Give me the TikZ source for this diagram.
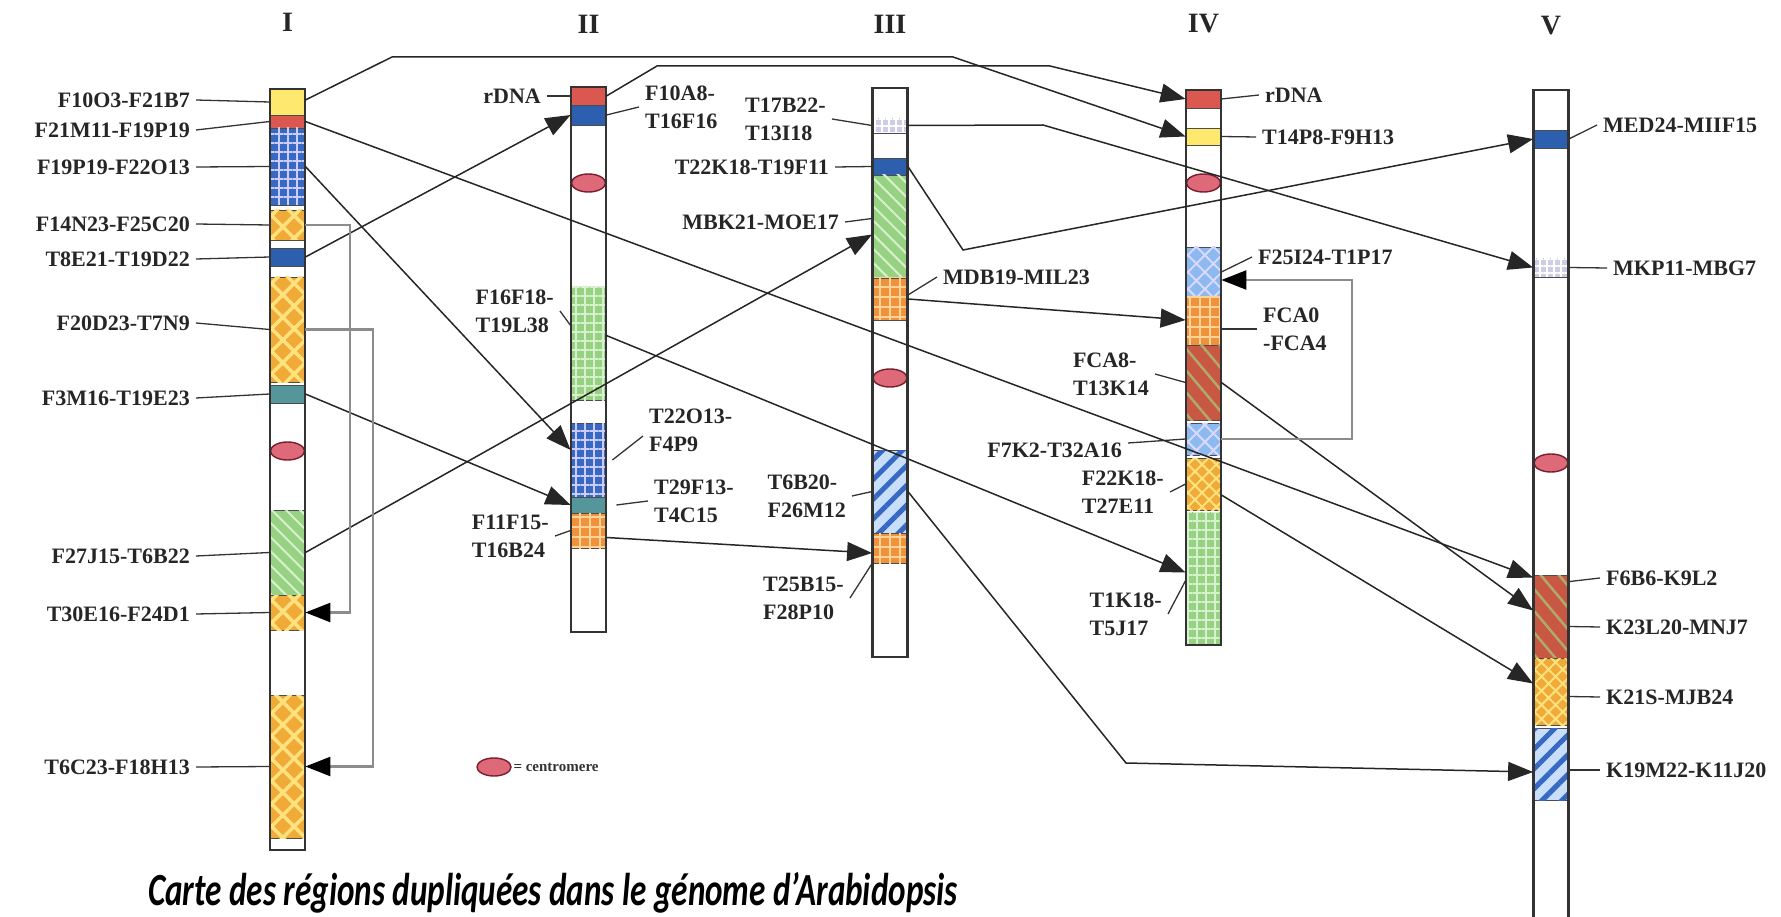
\documentclass[tikz,border=0pt]{standalone}
\usepackage{fontspec}
\setmainfont{Liberation Serif}
\newfontfamily\capfont{Carlito}
\usetikzlibrary{arrows.meta, patterns.meta, shapes.geometric}

\definecolor{yelC}{RGB}{255,232,110}
\definecolor{redC}{RGB}{218,88,80}
\definecolor{blueC}{RGB}{55,105,195}
\definecolor{dblueC}{RGB}{45,95,175}
\definecolor{tealC}{RGB}{85,150,155}
\definecolor{orangeC}{RGB}{240,170,55}
\definecolor{lyelC}{RGB}{255,225,125}
\definecolor{greenC}{RGB}{150,210,130}
\definecolor{lgreenC}{RGB}{215,240,205}
\definecolor{gridorC}{RGB}{240,145,60}
\definecolor{lorC}{RGB}{255,210,150}
\definecolor{lavC}{RGB}{205,205,232}
\definecolor{skyC}{RGB}{200,222,250}
\definecolor{brickC}{RGB}{200,88,68}
\definecolor{oliveC}{RGB}{175,170,105}
\definecolor{crossC}{RGB}{140,185,240}
\definecolor{centC}{RGB}{222,105,120}
\definecolor{centD}{RGB}{120,30,45}

\tikzset{
  seg/.style={rectangle, draw=black!70, line width=0.8pt, minimum width=35pt, inner sep=0pt},
  chrom/.style={rectangle, draw=black!80, line width=2.5pt, minimum width=35pt, inner sep=0pt},
  yel/.style={seg, fill=yelC},
  rdna/.style={seg, fill=redC},
  dblue/.style={seg, fill=dblueC},
  teal/.style={seg, fill=tealC},
  lav/.style={seg, fill=lavC, postaction={pattern={Hatch[angle=0,distance=7pt,line width=1.5pt]}, pattern color=white}},
  bgrid/.style={seg, fill=blueC, postaction={pattern={Hatch[angle=0,distance=9pt,line width=2.2pt]}, pattern color=white!80!blue}},
  ggrid/.style={seg, fill=greenC, postaction={pattern={Hatch[angle=0,distance=9pt,line width=2pt]}, pattern color=lgreenC}},
  ogrid/.style={seg, fill=gridorC, postaction={pattern={Hatch[angle=0,distance=10pt,line width=2pt]}, pattern color=lorC}},
  ocross/.style={seg, fill=orangeC, postaction={pattern={Hatch[angle=45,distance=16pt,line width=3.5pt]}, pattern color=lyelC}},
  ochev/.style={seg, fill=orangeC, postaction={pattern={Hatch[angle=45,distance=10pt,line width=2pt]}, pattern color=lyelC}},
  ghatch/.style={seg, fill=greenC, postaction={pattern={Lines[angle=-45,distance=10pt,line width=2pt]}, pattern color=lgreenC}},
  bstripe/.style={seg, fill=skyC, postaction={pattern={Lines[angle=45,distance=14pt,line width=5pt]}, pattern color=blueC}},
  bcross/.style={seg, fill=crossC, postaction={pattern={Hatch[angle=45,distance=12pt,line width=2pt]}, pattern color=white!85!blue}},
  brick/.style={seg, fill=brickC, postaction={pattern={Lines[angle=-50,distance=14pt,line width=2.5pt]}, pattern color=oliveC}},
  centro/.style={ellipse, fill=centC, draw=centD, line width=1.4pt, minimum width=34pt, minimum height=18pt, inner sep=0pt},
  lab/.style={font=\fontsize{22}{28}\selectfont\bfseries, text=black!85, inner sep=0pt, inner xsep=6pt, align=left},
  title/.style={font=\fontsize{28}{30}\selectfont\bfseries, text=black!85},
  tick/.style={draw=black!80, line width=1.3pt},
  link/.style={draw=black!85, line width=1.5pt, -{Triangle[length=25pt,width=19pt]}},
  greylink/.style={draw=black!45, line width=2.5pt, -{Triangle[length=25pt,width=19pt,color=black]}},
}

\begin{document}
\begin{tikzpicture}[x=1pt, y=-1pt]
  \useasboundingbox (0,0) rectangle (1781,917);

  % chromosome titles
  \node[title] (tI)   at (287.5,22) {I};
  \node[title] (tII)  at (588.5,24) {II};
  \node[title] (tIII) at (890,24)   {III};
  \node[title] (tIV)  at (1203.5,24) {IV};
  \node[title] (tV)   at (1551,26)  {V};

  % chromosome I
  \node[yel,    minimum height=26]  (Ia) at (287.5,102) {};
  \node[rdna,   minimum height=13]  (Ib) at (287.5,121.5) {};
  \node[bgrid,  minimum height=77]  (Ic) at (287.5,166.5) {};
  \node[ocross, minimum height=30]  (Id) at (287.5,225) {};
  \node[dblue,  minimum height=18]  (Ie) at (287.5,257) {};
  \node[ocross, minimum height=105] (If) at (287.5,329.5) {};
  \node[teal,   minimum height=18]  (Ig) at (287.5,394) {};
  \node[ghatch, minimum height=85]  (Ih) at (287.5,552.5) {};
  \node[ocross, minimum height=35]  (Ii) at (287.5,612.5) {};
  \node[ocross, minimum height=143] (Ij) at (287.5,766.5) {};
  \node[centro] (cI) at (287.5,451) {};
  \node[chrom, minimum height=761] (chrI) at (287.5,469.5) {};

  % chromosome II
  \node[rdna,  minimum height=18]  (IIa) at (588.5,96) {};
  \node[dblue, minimum height=20]  (IIb) at (588.5,115) {};
  \node[ggrid, minimum height=113] (IIc) at (588.5,343.5) {};
  \node[bgrid, minimum height=74]  (IId) at (588.5,460) {};
  \node[teal,  minimum height=16]  (IIe) at (588.5,505) {};
  \node[ogrid, minimum height=35]  (IIf) at (588.5,530.5) {};
  \node[centro] (cII) at (588.5,183) {};
  \node[chrom, minimum height=545] (chrII) at (588.5,359.5) {};

  % chromosome III
  \node[lav,     minimum height=15]  (IIIa) at (890,125.5) {};
  \node[dblue,   minimum height=17]  (IIIb) at (890,166.5) {};
  \node[ghatch,  minimum height=103] (IIIc) at (890,226.5) {};
  \node[ogrid,   minimum height=42]  (IIId) at (890,299) {};
  \node[bstripe, minimum height=83]  (IIIe) at (890,491.5) {};
  \node[ogrid,   minimum height=30]  (IIIf) at (890,548) {};
  \node[centro] (cIII) at (890,378) {};
  \node[chrom, minimum height=569] (chrIII) at (890,372.5) {};

  % chromosome IV
  \node[rdna,   minimum height=18]  (IVa) at (1203.5,99) {};
  \node[yel,    minimum height=17]  (IVb) at (1203.5,136.5) {};
  \node[bcross, minimum height=50]  (IVc) at (1203.5,272) {};
  \node[ogrid,  minimum height=48]  (IVd) at (1203.5,321) {};
  \node[brick,  minimum height=75]  (IVe) at (1203.5,382.5) {};
  \node[bcross, minimum height=32]  (IVf) at (1203.5,439) {};
  \node[ochev,  minimum height=52]  (IVg) at (1203.5,484) {};
  \node[ggrid,  minimum height=133] (IVh) at (1203.5,578.5) {};
  \node[centro] (cIV) at (1203.5,183) {};
  \node[chrom, minimum height=555] (chrIV) at (1203.5,367.5) {};

  % chromosome V
  \node[dblue,   minimum height=18] (Va) at (1551,139) {};
  \node[lav,     minimum height=19] (Vb) at (1551,267.5) {};
  \node[brick,   minimum height=83] (Vc) at (1551,616.5) {};
  \node[ochev,   minimum height=67] (Vd) at (1551,691.5) {};
  \node[bstripe, minimum height=72] (Ve) at (1551,764) {};
  \node[centro] (cV) at (1551,463) {};
  \node[chrom, minimum height=835] (chrV) at (1551,507.5) {};

  % labels of I
  \node[lab, anchor=east] (lIa) at (196,100) {F10O3-F21B7};
  \node[lab, anchor=east] (lIb) at (196,130) {F21M11-F19P19};
  \node[lab, anchor=east] (lIc) at (196,167) {F19P19-F22O13};
  \node[lab, anchor=east] (lId) at (196,224) {F14N23-F25C20};
  \node[lab, anchor=east] (lIe) at (196,259) {T8E21-T19D22};
  \node[lab, anchor=east] (lIf) at (196,323) {F20D23-T7N9};
  \node[lab, anchor=east] (lIg) at (196,398) {F3M16-T19E23};
  \node[lab, anchor=east] (lIh) at (196,556) {F27J15-T6B22};
  \node[lab, anchor=east] (lIi) at (196,614) {T30E16-F24D1};
  \node[lab, anchor=east] (lIj) at (196,767) {T6C23-F18H13};
  \foreach \s in {a,b,c,d,e,f,g,h,i,j}
    \draw[tick] (lI\s.east) -- (I\s.west);

  % labels of II
  \node[lab, anchor=east] (lIIa) at (547,96)  {rDNA};
  \node[lab, anchor=west] (lIIb) at (639,107) {F10A8-\\T16F16};
  \node[lab, anchor=east] (lIIc) at (560,311) {F16F18-\\T19L38};
  \node[lab, anchor=west] (lIId) at (643,430) {T22O13-\\F4P9};
  \node[lab, anchor=west] (lIIe) at (648,501) {T29F13-\\T4C15};
  \node[lab, anchor=east] (lIIf) at (555,536) {F11F15-\\T16B24};
  \draw[tick] (lIIa.east) -- (IIa.west);
  \draw[tick] (IIb.east) -- (lIIb.west);
  \draw[tick] (lIIc.east) -- ([yshift=18pt]IIc.west);
  \draw[tick] ([xshift=6pt]IId.east) -- ([yshift=-6pt]lIId.west);
  \draw[tick] ([xshift=10pt]IIe.east) -- (lIIe.west);
  \draw[tick] (lIIf.east) -- (IIf.west);

  % labels of III
  \node[lab, anchor=east] (lIIIa) at (832,119) {T17B22-\\T13I18};
  \node[lab, anchor=east] (lIIIb) at (835,167) {T22K18-T19F11};
  \node[lab, anchor=east] (lIIIc) at (845,222) {MBK21-MOE17};
  \node[lab, anchor=west] (lIIId) at (937,277) {MDB19-MIL23};
  \node[lab, anchor=east] (lIIIe) at (852,496) {T6B20-\\F26M12};
  \node[lab, anchor=east] (lIIIf) at (850,598) {T25B15-\\F28P10};
  \draw[tick] (lIIIa.east) -- (IIIa.west);
  \draw[tick] (lIIIb.east) -- (IIIb.west);
  \draw[tick] (lIIIc.east) -- ([yshift=8pt]IIIc.west);
  \draw[tick] ([yshift=4pt]IIId.east) -- (lIIId.west);
  \draw[tick] (lIIIe.east) -- (IIIe.west);
  \draw[tick] (lIIIf.east) -- (IIIf.south west);

  % labels of IV
  \node[lab, anchor=west] (lIVa) at (1259,95)  {rDNA};
  \node[lab, anchor=west] (lIVb) at (1256,137) {T14P8-F9H13};
  \node[lab, anchor=west] (lIVc) at (1252,257) {F25I24-T1P17};
  \node[lab, anchor=west] (lIVd) at (1257,329) {FCA0\\-FCA4};
  \node[lab, anchor=east] (lIVe) at (1155,374) {FCA8-\\T13K14};
  \node[lab, anchor=north east] (lIVf) at (1128,443) {F7K2-T32A16};
  \node[lab, anchor=east] (lIVg) at (1170,492) {F22K18-\\T27E11};
  \node[lab, anchor=east] (lIVh) at (1168,614) {T1K18-\\T5J17};
  \draw[tick] (IVa.east) -- (lIVa.west);
  \draw[tick] (IVb.east) -- (lIVb.west);
  \draw[tick] (IVc.east) -- (lIVc.west);
  \draw[tick] ([yshift=-8pt]IVd.east) -- (lIVd.west);
  \draw[tick] (lIVe.east) -- (IVe.west);
  \draw[tick] (lIVf.north east) -- (IVf.west);
  \draw[tick] (lIVg.east) -- (IVg.west);
  \draw[tick] (lIVh.east) -- ([yshift=-2pt]IVh.west);

  % labels of V
  \node[lab, anchor=west] (lVa)  at (1597,125) {MED24-MIIF15};
  \node[lab, anchor=west] (lVb)  at (1607,268) {MKP11-MBG7};
  \node[lab, anchor=west] (lVc1) at (1600,578) {F6B6-K9L2};
  \node[lab, anchor=west] (lVc2) at (1600,627) {K23L20-MNJ7};
  \node[lab, anchor=west] (lVd)  at (1600,697) {K21S-MJB24};
  \node[lab, anchor=west] (lVe)  at (1600,770) {K19M22-K11J20};
  \draw[tick] (Va.east) -- (lVa.west);
  \draw[tick] (Vb.east) -- (lVb.west);
  \draw[tick] ([yshift=-7pt]Vc.north east) -- (lVc1.west);
  \draw[tick] ([yshift=-10pt]Vc.east) -- (lVc2.west);
  \draw[tick] ([yshift=-5pt]Vd.east) -- (lVd.west);
  \draw[tick] ([yshift=-6pt]Ve.east) -- (lVe.west);

  % duplications
  \draw[link] ([yshift=2pt]Ia.east) -- (392,57) -- (953,57) -- (IVb.west);
  \draw[link] (IIa.east) -- (657,66) -- (1050,66) -- (IVa.west);
  \draw[link] (Ib.east) -- ([yshift=-3pt]Vc.north west);
  \draw[link] (Ic.east) -- ([yshift=10pt]IId.west);
  \draw[link] (Ie.east) -- (IIb.west);
  \draw[link] (Ig.east) -- (IIe.west);
  \draw[link] (Ih.east) -- ([yshift=-8pt]IIIc.west);
  \draw[link] ([yshift=8pt]IIc.east) -- ([yshift=6pt]IVh.west);
  \draw[link] ([yshift=-7pt]IIf.east) -- ([yshift=-5pt]IIIf.west);
  \draw[link] (IIIa.east) -- (1043,125) -- (Vb.west);
  \draw[link] (IIIb.east) -- (963,250) -- (Va.west);
  \draw[link] (IIId.east) -- ([yshift=1pt]IVd.west);
  \draw[link] (IIIe.east) -- (1126,763) -- ([yshift=-8pt]Ve.west);
  \draw[link] (IVe.east) -- ([yshift=6pt]Vc.west);
  \draw[link] ([yshift=-11pt]IVg.east) -- ([yshift=8pt]Vd.west);
  \draw[greylink] (Id.east) -- (350,225) -- (350,612.5) -- (Ii.east);
  \draw[greylink] (If.east) -- (373,329.5) -- (373,766.5) -- (Ij.east);
  \draw[greylink] (IVf.east) -- (1352,439) -- (1352,280) -- ([yshift=-8pt]IVc.east);

  % legend
  \node[centro] (legc) at (494,767) {};
  \node[anchor=west, font=\fontsize{15}{17}\selectfont\bfseries, text=black!80] (legt) at (510,767) {= centromere};

  % caption
  \node[anchor=base west, inner sep=0pt] (cap) at (148,905)
    {\capfont\bfseries\itshape\fontsize{46}{50}\selectfont\scalebox{0.72}[1]{Carte des régions dupliquées dans le génome d’Arabidopsis}};
\end{tikzpicture}
\end{document}
